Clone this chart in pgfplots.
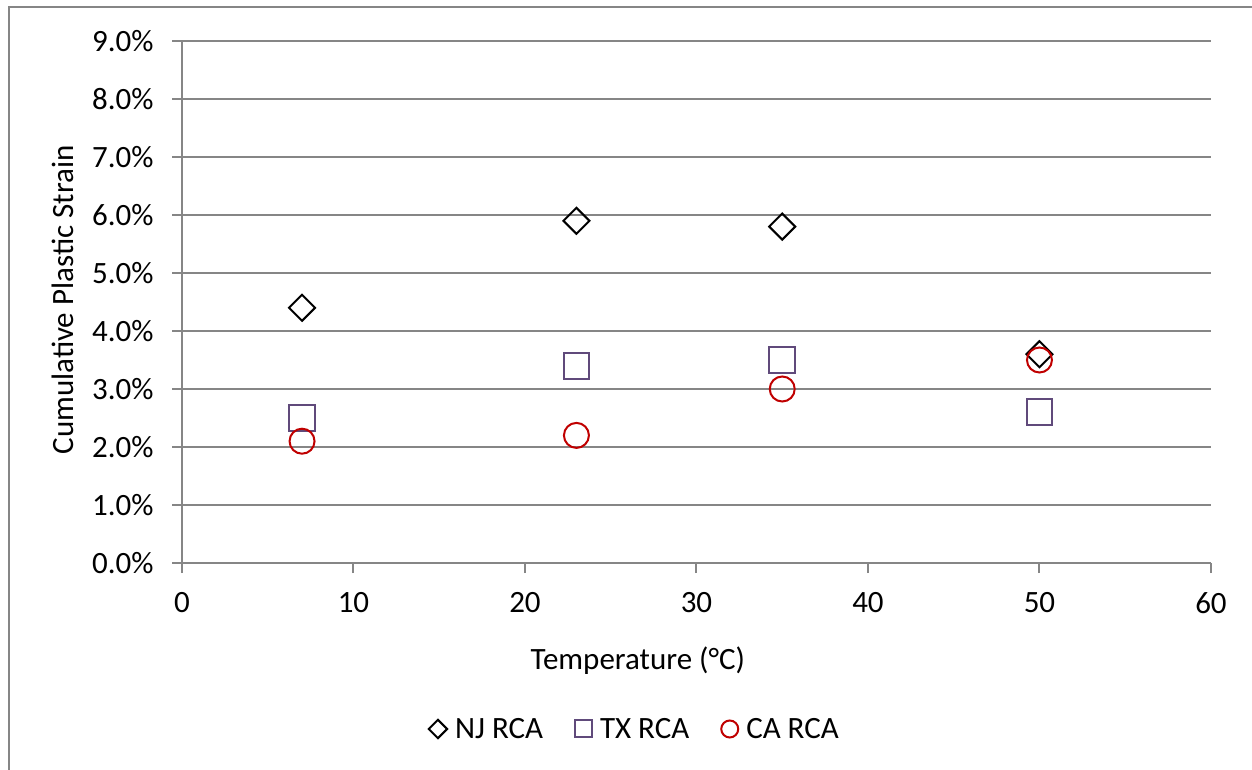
\documentclass[border=0pt]{standalone}
\usepackage{fontspec}
\setmainfont{Carlito}
\usepackage{pgfplots}
\pgfplotsset{compat=1.18}
\definecolor{gridgray}{RGB}{134,134,134}
\definecolor{txpurple}{RGB}{96,74,123}
\definecolor{cared}{RGB}{192,0,0}
\newcommand{\cf}{\fontsize{31bp}{37bp}\selectfont}
\begin{document}
\begin{tikzpicture}
\useasboundingbox (0,0) rectangle (1252bp,770bp);
\draw[gridgray, line width=2.5bp] (9bp,0) -- (9bp,763bp) -- (1252bp,763bp);
\begin{axis}[
  at={(182bp,207bp)}, anchor=south west,
  scale only axis, width=1029bp, height=522bp,
  xmin=0, xmax=60, ymin=0, ymax=9,
  xtick={0,10,...,60}, ytick={0,1,...,9},
  xticklabels={0,10,20,30,40,50,60},
  yticklabels={0.0\%,1.0\%,2.0\%,3.0\%,4.0\%,5.0\%,6.0\%,7.0\%,8.0\%,9.0\%},
  axis x line*=bottom, axis y line*=left,
  ymajorgrids, grid style={gridgray, line width=2bp},
  axis line style={gridgray, line width=2bp},
  major tick length=10bp, tick style={gridgray, line width=2bp},
  tick align=outside,
  tick label style={font=\cf, text=black},
  yticklabel style={xshift=-15bp},
  xticklabel style={yshift=-16bp},
  xlabel={Temperature (°C)}, ylabel={Cumulative Plastic Strain},
  label style={font=\cf},
  xlabel style={at={(axis description cs:0.443,-0.187)}, anchor=center},
  ylabel style={at={(axis description cs:-0.1157,0.504)}, anchor=center},
  legend style={at={(axis description cs:0.440,-0.318)}, anchor=center,
    draw=none, font=\cf, legend columns=3,
    /tikz/every odd column/.append style={column sep=6bp},
    /tikz/every even column/.append style={column sep=30bp}},
  clip=false,
]
\addplot[only marks, mark=square, mark size=9.2bp, mark options={rotate=45, draw=black, line width=2bp, fill=none},
  legend image post style={mark size=6.5bp}]
  coordinates {(7,4.4) (23,5.9) (35,5.8) (50,3.6)};
\addlegendentry{NJ RCA}
\addplot[only marks, mark=square, mark size=12.8bp, mark options={draw=txpurple, line width=2bp, fill=none},
  legend image post style={mark size=8.5bp}]
  coordinates {(7,2.5) (23,3.4) (35,3.5) (50,2.6)};
\addlegendentry{TX RCA}
\addplot[only marks, mark=o, mark size=12.5bp, mark options={draw=cared, line width=2bp, fill=none},
  legend image post style={mark size=8.5bp}]
  coordinates {(7,2.1) (23,2.2) (35,3.0) (50,3.5)};
\addlegendentry{CA RCA}
\end{axis}
\end{tikzpicture}
\end{document}
